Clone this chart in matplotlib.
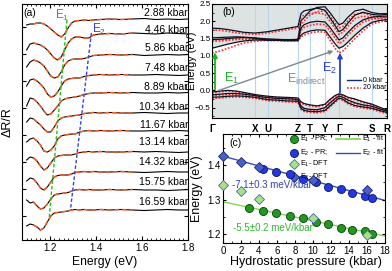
import numpy as np
import matplotlib
matplotlib.use('Agg')
from matplotlib import pyplot as plt
from matplotlib.ticker import MultipleLocator, NullFormatter
from matplotlib.lines import Line2D

plt.rcParams['font.family'] = ['Liberation Sans', 'DejaVu Sans']
plt.rcParams['mathtext.default'] = 'regular'
plt.rcParams['xtick.direction'] = 'in'
plt.rcParams['ytick.direction'] = 'in'
plt.rcParams['axes.linewidth'] = 0.8

# ---------------- (a) PR spectra ----------------
pressure_labels = ['2.88', '4.46', '5.86', '7.48', '8.89', '10.34',
                   '11.67', '13.14', '14.32', '15.75', '16.59']
energy_a = [1.10, 1.115, 1.13, 1.145, 1.16, 1.175, 1.19, 1.205, 1.22, 1.235,
            1.25, 1.265, 1.28, 1.295, 1.31, 1.33, 1.35, 1.37, 1.39, 1.42,
            1.46, 1.51, 1.56, 1.61, 1.66, 1.71, 1.76, 1.80]
# vertical offset of each spectrum (flat part), a.u.
shift_a = [-2.1, -3.4, -5.5, -7.5, -9.3, -11.3, -13.1, -15.2, -17.2, -19.0, -21.0]
label_y = [-1.3, -3.0, -4.8, -6.8, -8.7, -10.7, -12.5, -14.2, -16.2, -18.2, -20.2]

spec_01 = [-0.4, -0.3, -0.3, -0.2, -0.2, -0.3, -0.5, -0.8, -1.1, -1.4, -1.6, -1.3, -0.7, -0.2,
           0.0, 0.05, 0.1, 0.05, 0.1, 0.15, 0.2, 0.15, 0.2, 0.25, 0.15, 0.2, 0.15, 0.2]
spec_02 = [-1.6, -1.0, -0.9, -1.0, -1.1, -1.3, -1.6, -2.0, -2.4, -2.6, -2.3, -1.6, -0.9, -0.5,
           -0.3, -0.3, -0.4, -0.4, -0.1, 0.0, 0.05, 0.0, 0.1, 0.05, 0.0, 0.1, 0.05, 0.0]
spec_03 = [-1.2, -0.7, -0.5, -0.6, -0.8, -1.1, -1.6, -2.1, -2.3, -2.2, -1.7, -1.0, -0.6, -0.45,
           -0.4, -0.4, -0.35, -0.2, -0.05, 0.0, 0.05, 0.0, 0.05, -0.05, 0.0, 0.05, 0.0, 0.05]
spec_04 = [-1.1, -0.5, -0.4, -0.6, -0.9, -1.3, -1.9, -2.2, -2.1, -1.7, -1.1, -0.6, -0.4, -0.35,
           -0.3, -0.3, -0.15, -0.05, 0.0, 0.05, 0.0, 0.05, 0.0, 0.0, 0.05, 0.0, -0.05, 0.0]
spec_05 = [-1.3, -0.5, -0.6, -0.9, -1.3, -1.8, -2.2, -2.1, -1.7, -1.3, -0.8, -0.6, -0.5, -0.45,
           -0.4, -0.3, -0.15, -0.05, 0.0, 0.0, 0.05, 0.0, 0.05, 0.0, 0.0, 0.05, 0.0, 0.05]
spec_06 = [-0.9, -0.5, -0.6, -0.9, -1.2, -1.6, -1.9, -1.9, -1.4, -0.8, -0.5, -0.4, -0.35, -0.3,
           -0.25, -0.2, -0.05, 0.0, 0.05, 0.0, 0.05, 0.0, 0.0, 0.05, 0.0, -0.05, 0.0, 0.0]
spec_07 = [-1.1, -0.8, -0.7, -1.0, -1.4, -2.0, -2.1, -1.9, -1.5, -0.8, -0.5, -0.4, -0.35, -0.3,
           -0.3, -0.1, 0.0, 0.05, 0.0, 0.05, 0.0, 0.05, 0.0, 0.0, 0.05, 0.0, 0.05, 0.0]
spec_08 = [-0.8, -0.5, -0.6, -0.9, -1.4, -1.8, -1.6, -1.1, -0.6, -0.4, -0.35, -0.3, -0.3, -0.3,
           -0.2, -0.05, 0.0, 0.05, 0.0, 0.05, 0.0, 0.0, 0.05, 0.0, 0.05, 0.0, -0.05, 0.0]
spec_09 = [-0.9, -0.6, -0.7, -1.1, -1.6, -1.8, -1.5, -1.0, -0.5, -0.35, -0.3, -0.3, -0.3, -0.2,
           -0.05, 0.0, 0.05, 0.0, 0.05, 0.0, 0.0, 0.05, 0.0, -0.05, 0.0, 0.05, 0.0, 0.0]
spec_10 = [-1.0, -1.3, -1.2, -1.6, -1.9, -1.8, -1.4, -0.9, -0.5, -0.4, -0.35, -0.3, -0.25, -0.1,
           0.0, 0.05, 0.0, 0.05, 0.0, 0.0, 0.05, 0.0, 0.05, 0.0, 0.0, -0.05, 0.0, 0.05]
spec_11 = [-1.6, -1.4, -1.5, -1.7, -2.0, -1.8, -1.2, -0.6, -0.3, -0.25, -0.2, -0.15, -0.1, 0.0,
           0.05, 0.0, 0.05, 0.0, 0.0, 0.05, 0.0, 0.05, 0.0, -0.05, 0.0, 0.05, 0.0, 0.0]
spectra = [spec_01, spec_02, spec_03, spec_04, spec_05, spec_06,
           spec_07, spec_08, spec_09, spec_10, spec_11]

e1_line_x = [1.275, 1.198]
e1_line_y = [-2.0, -21.8]
e2_line_x = [1.381, 1.290]
e2_line_y = [-3.3, -21.0]

# ---------------- (b) band structure ----------------
k_path = [0, 8, 16, 24, 32, 43, 50, 56, 64, 72, 80, 86, 89, 92, 98, 105, 113,
          118, 123, 127, 131, 136, 143, 151, 160, 167, 175]
k_nodes = [0, 43, 56, 86, 98, 113, 127, 160, 175]
k_names = ['Γ', 'X', 'U', 'Z', 'T', 'Y', 'Γ', 'S', 'R']

cb1_0 = [1.22, 1.28, 1.34, 1.39, 1.43, 1.46, 1.46, 1.45, 1.45, 1.44, 1.44, 1.44, 1.60, 1.66,
         1.72, 1.75, 1.74, 1.55, 1.35, 1.22, 1.27, 1.40, 1.60, 1.80, 1.97, 2.02, 2.05]
cb2_0 = [1.47, 1.48, 1.50, 1.52, 1.53, 1.51, 1.48, 1.46, 1.46, 1.46, 1.45, 1.46, 1.80, 1.90,
         1.97, 2.00, 1.98, 1.82, 1.62, 1.46, 1.52, 1.68, 1.88, 2.04, 2.12, 2.14, 2.15]
cb3_0 = [1.80, 1.79, 1.76, 1.72, 1.68, 1.66, 1.68, 1.70, 1.74, 1.78, 1.82, 1.85, 2.22, 2.30,
         2.34, 2.38, 2.32, 2.10, 1.88, 1.70, 1.76, 1.95, 2.18, 2.26, 2.20, 2.18, 2.20]
cb4_0 = [1.52, 1.53, 1.54, 1.55, 1.54, 1.52, 1.50, 1.49, 1.48, 1.47, 1.47, 1.48, 2.02, 2.10,
         2.30, 2.40, 2.42, 2.25, 2.05, 1.90, 1.95, 2.12, 2.30, 2.35, 2.25, 2.22, 2.22]
vb1_0 = [-0.05, -0.02, 0.0, -0.02, -0.06, -0.12, -0.15, -0.17, -0.19, -0.20, -0.21, -0.22, -0.33,
         -0.38, -0.42, -0.45, -0.40, -0.26, -0.15, -0.10, -0.13, -0.20, -0.25, -0.33, -0.40, -0.48, -0.57]
vb2_0 = [-0.13, -0.11, -0.09, -0.09, -0.11, -0.15, -0.19, -0.21, -0.23, -0.24, -0.25, -0.27, -0.45,
         -0.52, -0.55, -0.56, -0.50, -0.36, -0.24, -0.16, -0.20, -0.28, -0.36, -0.42, -0.46, -0.53, -0.60]
vb3_0 = [-0.20, -0.19, -0.17, -0.16, -0.17, -0.20, -0.24, -0.27, -0.28, -0.30, -0.31, -0.32, -0.52,
         -0.58, -0.61, -0.62, -0.58, -0.45, -0.32, -0.22, -0.26, -0.36, -0.44, -0.48, -0.52, -0.58, -0.64]

cb1_20 = [1.08, 1.14, 1.22, 1.30, 1.37, 1.42, 1.44, 1.44, 1.44, 1.43, 1.43, 1.43, 1.55, 1.60,
          1.66, 1.70, 1.68, 1.45, 1.22, 1.08, 1.14, 1.30, 1.50, 1.72, 1.92, 1.98, 2.02]
cb2_20 = [1.42, 1.43, 1.45, 1.47, 1.48, 1.47, 1.46, 1.45, 1.45, 1.45, 1.44, 1.45, 1.74, 1.82,
          1.88, 1.92, 1.90, 1.72, 1.52, 1.36, 1.42, 1.60, 1.80, 1.98, 2.06, 2.08, 2.10]
cb3_20 = [1.75, 1.74, 1.71, 1.67, 1.64, 1.62, 1.64, 1.66, 1.70, 1.74, 1.78, 1.80, 2.12, 2.18,
          2.22, 2.25, 2.20, 2.00, 1.80, 1.62, 1.68, 1.86, 2.08, 2.15, 2.10, 2.08, 2.12]
cb4_20 = [1.46, 1.47, 1.48, 1.49, 1.49, 1.48, 1.47, 1.46, 1.46, 1.45, 1.45, 1.46, 1.92, 2.00,
          2.18, 2.28, 2.30, 2.15, 1.95, 1.80, 1.85, 2.02, 2.20, 2.25, 2.15, 2.12, 2.12]
vb1_20 = [-0.08, -0.04, -0.02, -0.04, -0.08, -0.14, -0.17, -0.19, -0.21, -0.22, -0.23, -0.24, -0.36,
          -0.41, -0.45, -0.48, -0.42, -0.28, -0.17, -0.12, -0.15, -0.22, -0.27, -0.35, -0.42, -0.50, -0.60]
vb2_20 = [-0.16, -0.14, -0.12, -0.12, -0.13, -0.17, -0.21, -0.23, -0.25, -0.26, -0.27, -0.29, -0.48,
          -0.55, -0.58, -0.59, -0.53, -0.39, -0.26, -0.18, -0.22, -0.30, -0.38, -0.44, -0.49, -0.56, -0.63]
vb3_20 = [-0.23, -0.22, -0.20, -0.19, -0.20, -0.23, -0.27, -0.30, -0.31, -0.33, -0.34, -0.35, -0.55,
          -0.61, -0.64, -0.65, -0.61, -0.48, -0.35, -0.25, -0.29, -0.39, -0.47, -0.51, -0.55, -0.61, -0.67]

bands_0 = [cb1_0, cb2_0, cb3_0, cb4_0, vb1_0, vb2_0, vb3_0]
bands_20 = [cb1_20, cb2_20, cb3_20, cb4_20, vb1_20, vb2_20, vb3_20]

# ---------------- (c) energies vs pressure ----------------
p_pr = [2.88, 4.46, 5.86, 7.48, 8.89, 10.34, 11.67, 13.14, 14.32, 15.75, 16.59]
e1_pr = [1.277, 1.268, 1.261, 1.252, 1.248, 1.237, 1.229, 1.218, 1.214, 1.209, 1.202]
p_pr2 = [4.46, 5.86, 7.48, 8.89, 10.34, 11.67, 13.14, 14.32, 15.75, 16.59]
e2_pr = [1.390, 1.379, 1.373, 1.361, 1.352, 1.337, 1.330, 1.320, 1.310, 1.305]
p_dft = [0, 2, 4, 10, 16]
e1_dft = [1.344, 1.325, 1.303, 1.248, 1.197]
e2_dft = [1.426, 1.408, 1.395, 1.358, 1.328]
p_fit = [0, 18]
e1_fit = [1.294, 1.195]
e2_fit = [1.426, 1.298]

fig = plt.figure(figsize=(3.92, 2.71), dpi=100)

# ---- panel a
ax_a = fig.add_axes([22/392, 31/271, 166/392, 236/271])
e = np.array(energy_a)
fitmask = (e >= 1.125) & (e <= 1.56)
for i, sp in enumerate(spectra):
    y = np.array(sp) + shift_a[i]
    ax_a.plot(e, y, color='k', lw=0.8)
    ax_a.plot(e[fitmask], y[fitmask], color='#ff5a1e', lw=1.1, dashes=(3, 2))
    ax_a.text(1.80, label_y[i], pressure_labels[i] + ' kbar', ha='right', va='center',
              fontsize=7.5, clip_on=True)
ax_a.plot(e1_line_x, e1_line_y, color='#22c022', lw=1.0, dashes=(2.5, 1.5))
ax_a.plot(e2_line_x, e2_line_y, color='#3344dd', lw=1.0, dashes=(2.5, 1.5))
ax_a.text(1.252, -1.5, 'E$_1$', color='#22b022', fontsize=8.5, ha='center', va='center')
ax_a.text(1.415, -2.9, 'E$_2$', color='#3344dd', fontsize=8.5, ha='center', va='center')
ax_a.text(1.085, -1.25, '(a)', fontsize=7.5, ha='left', va='center')
ax_a.set_xlim(1.08, 1.8)
ax_a.set_ylim(-24.0, -0.4)
ax_a.xaxis.set_major_locator(MultipleLocator(0.2))
ax_a.xaxis.set_minor_locator(MultipleLocator(0.02))
ax_a.yaxis.set_major_locator(MultipleLocator(2.7))
ax_a.yaxis.set_major_formatter(NullFormatter())
ax_a.tick_params(which='both', top=True, right=True, labelsize=7, pad=2)
ax_a.tick_params(which='major', length=3)
ax_a.tick_params(which='minor', length=1.5)
ax_a.set_xlabel('Energy (eV)', fontsize=8.7)
ax_a.xaxis.set_label_coords(0.5, -0.068)
ax_a.set_ylabel('ΔR/R', fontsize=9)
ax_a.yaxis.set_label_coords(-0.05, 0.5)

# ---- panel b
ax_b = fig.add_axes([212/392, 153/271, 175/392, 114/271])
ax_b.fill_between(k_path, cb1_0, 2.5, color='#dde3e3', lw=0)
ax_b.fill_between(k_path, -0.8, vb1_0, color='#dde3e3', lw=0)
for kn in k_nodes[1:-1]:
    ax_b.axvline(kn, color='#b8d4ee', lw=0.8)
for b in bands_20:
    ax_b.plot(k_path, b, color='#ff2a2a', lw=1.2, ls=(0, (1, 1)))
for b in bands_0:
    ax_b.plot(k_path, b, color='#111122', lw=0.9)
ax_b.annotate('', xy=(3, 1.18), xytext=(3, -0.05),
              arrowprops=dict(arrowstyle='-|>', color='#22b022', lw=1.3, mutation_scale=7))
ax_b.annotate('', xy=(128, 1.17), xytext=(128, -0.15),
              arrowprops=dict(arrowstyle='-|>', color='#2a3fd0', lw=1.3, mutation_scale=7))
ax_b.annotate('', xy=(124, 1.17), xytext=(4, -0.03),
              arrowprops=dict(arrowstyle='-|>', color='#7a8a94', lw=1.0, mutation_scale=6))
ax_b.text(19, 0.35, 'E$_1$', color='#22b022', fontsize=9, ha='center', va='center')
ax_b.text(117, 0.62, 'E$_2$', color='#2a3fd0', fontsize=9, ha='center', va='center')
ax_b.text(75, 0.33, 'E$_{indirect}$', color='#7a8a94', fontsize=9, ha='left', va='center')
ax_b.add_line(Line2D([135, 149], [0.29, 0.29], color='#1a2380', lw=1.0))
ax_b.add_line(Line2D([135, 149], [0.07, 0.07], color='#ff2a2a', lw=1.2, ls=(0, (1, 1))))
ax_b.text(151, 0.29, '0 kbar', fontsize=5, ha='left', va='center')
ax_b.text(151, 0.07, '20 kbar', fontsize=5, ha='left', va='center')
ax_b.text(10, 2.28, '(b)', fontsize=7.5, ha='left', va='center')
ax_b.set_xlim(0, 175)
ax_b.set_ylim(-0.8, 2.5)
ax_b.set_xticks(k_nodes)
ax_b.set_xticklabels(k_names, fontsize=7, fontweight='bold')
ax_b.tick_params(axis='x', length=0, pad=4)
ax_b.yaxis.set_major_locator(MultipleLocator(0.5))
ax_b.yaxis.set_minor_locator(MultipleLocator(0.25))
ax_b.tick_params(axis='y', which='both', right=True, labelsize=5.8, pad=1)
ax_b.tick_params(axis='y', which='major', length=2.5)
ax_b.tick_params(axis='y', which='minor', length=1.5)
ax_b.set_ylabel('Energy (eV)', fontsize=7.8)
ax_b.yaxis.set_label_coords(-0.085, 0.5)

# ---- panel c
ax_c = fig.add_axes([223/392, 28/271, 162/392, 109/271])
ax_c.plot(p_fit, e1_fit, color='#7ed957', lw=1.0, zorder=1)
ax_c.plot(p_fit, e2_fit, color='#3050c0', lw=1.0, zorder=1)
ax_c.plot(p_pr, e1_pr, 'o', ms=5.8, mfc='#1f9a1f', mec='#0d3a0d', mew=0.6, zorder=3)
ax_c.plot(p_pr2, e2_pr, 'o', ms=5.8, mfc='#2437e0', mec='#0d1660', mew=0.6, zorder=3)
ax_c.plot(p_dft, e1_dft, 'D', ms=4.8, mfc='#a6e283', mec='#4a60c0', mew=0.6, zorder=4, clip_on=False)
ax_c.plot(p_dft, e2_dft, 'D', ms=4.8, mfc='#4c5fc8', mec='#1a2470', mew=0.6, zorder=4, clip_on=False)
ax_c.text(1.0, 1.342, '-7.1±0.3 meV/kbar', color='#3040b8', fontsize=7, ha='left', va='center')
ax_c.text(1.1, 1.217, '-5.5±0.2 meV/kbar', color='#2eb82e', fontsize=7, ha='left', va='center')
ax_c.text(0.04, 0.92, '(c)', fontsize=7.5, ha='left', va='center', transform=ax_c.transAxes)

# legend built by hand
tr = ax_c.transAxes
leg_rows = [0.955, 0.825, 0.725, 0.605]
ax_c.plot([0.438], [leg_rows[0]], 'o', ms=5.8, mfc='#1f9a1f', mec='#0d3a0d', mew=0.6, transform=tr, clip_on=False)
ax_c.plot([0.438], [leg_rows[1]], 'o', ms=5.8, mfc='#2437e0', mec='#0d1660', mew=0.6, transform=tr)
ax_c.plot([0.438], [leg_rows[2]], 'D', ms=4.8, mfc='#a6e283', mec='#4a60c0', mew=0.6, transform=tr)
ax_c.plot([0.438], [leg_rows[3]], 'D', ms=4.8, mfc='#4c5fc8', mec='#1a2470', mew=0.6, transform=tr)
ax_c.text(0.475, leg_rows[0], 'E$_1$ - PR;', fontsize=5.3, va='center', transform=tr)
ax_c.text(0.475, leg_rows[1], 'E$_2$ - PR;', fontsize=5.3, va='center', transform=tr)
ax_c.text(0.475, leg_rows[2], 'E$_1$- DFT', fontsize=5.3, va='center', transform=tr)
ax_c.text(0.475, leg_rows[3], 'E$_2$- DFT', fontsize=5.3, va='center', transform=tr)
ax_c.plot([0.70, 0.845], [leg_rows[0]] * 2, color='#7ed957', lw=1.3, transform=tr)
ax_c.plot([0.70, 0.845], [leg_rows[1]] * 2, color='#3050c0', lw=1.0, transform=tr)
ax_c.text(0.86, leg_rows[0], 'E$_1$ - fit', fontsize=5.3, va='center', transform=tr)
ax_c.text(0.86, leg_rows[1], 'E$_2$ - fit', fontsize=5.3, va='center', transform=tr)

ax_c.set_xlim(0, 18)
ax_c.set_ylim(1.175, 1.49)
ax_c.xaxis.set_major_locator(MultipleLocator(2))
ax_c.xaxis.set_minor_locator(MultipleLocator(1))
ax_c.yaxis.set_major_locator(MultipleLocator(0.1))
ax_c.yaxis.set_minor_locator(MultipleLocator(0.05))
ax_c.tick_params(which='both', top=True, right=True, labelsize=7, pad=2)
ax_c.tick_params(which='major', length=2.5)
ax_c.tick_params(which='minor', length=1.5)
ax_c.set_xlabel('Hydrostatic pressure (kbar)', fontsize=9)
ax_c.xaxis.set_label_coords(0.51, -0.115)
ax_c.set_ylabel('Energy (eV)', fontsize=9)
ax_c.yaxis.set_label_coords(-0.125, 0.5)

fig.savefig('out.png', dpi=100)
